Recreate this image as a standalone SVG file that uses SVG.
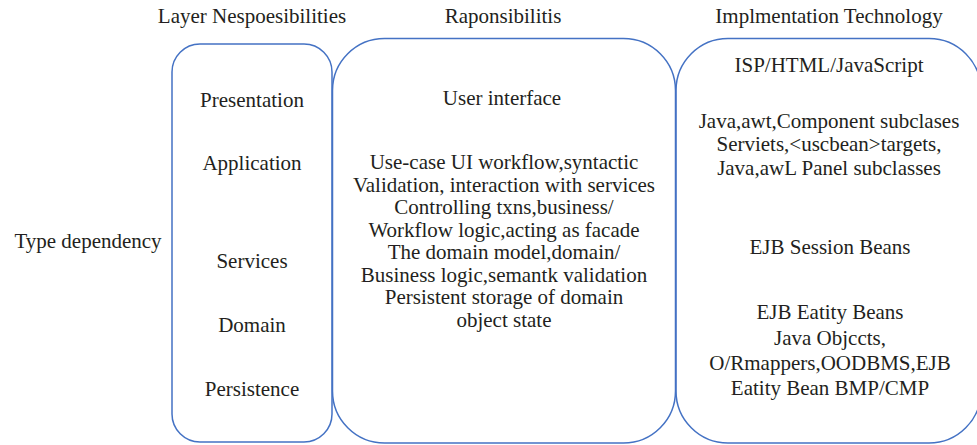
<svg xmlns="http://www.w3.org/2000/svg" width="977" height="445" viewBox="0 0 977 445">
  <style>
    .box { fill: none; stroke: #4472c4; stroke-width: 1.5; }
    text { font-family: "Liberation Serif", "Times New Roman", serif; font-size: 21px; fill: #231f20; text-anchor: middle; }
  </style>
  <rect width="977" height="445" fill="#ffffff"/>

  <!-- column headings -->
  <g id="headings">
    <text x="252" y="23">Layer Nespoesibilities</text>
    <text x="503" y="23">Raponsibilitis</text>
    <text x="829" y="23">Implmentation Technology</text>
  </g>

  <g id="type-dependency">
    <text x="88" y="248">Type dependency</text>
  </g>

  <!-- layer column -->
  <g id="layers">
    <rect class="box" x="172" y="44" width="160" height="398" rx="28" ry="28"/>
    <text x="252" y="107">Presentation</text>
    <text x="252" y="170">Application</text>
    <text x="252" y="268">Services</text>
    <text x="252" y="332">Domain</text>
    <text x="252" y="396">Persistence</text>
  </g>

  <!-- responsibilities column -->
  <g id="responsibilities">
    <rect class="box" x="332.5" y="38.5" width="343" height="404.5" rx="52" ry="52"/>
    <text x="502" y="105">User interface</text>
    <text x="504" y="169">Use-case UI workflow,syntactic</text>
    <text x="504" y="191.5">Validation, interaction with services</text>
    <text x="504" y="214">Controlling txns,business/</text>
    <text x="504" y="236.5">Workflow logic,acting as facade</text>
    <text x="504" y="259">The domain model,domain/</text>
    <text x="504" y="281.5">Business logic,semantk validation</text>
    <text x="504" y="304">Persistent storage of domain</text>
    <text x="504" y="326.5">object state</text>
  </g>

  <!-- implementation technology column (right edge runs past the canvas) -->
  <g id="technology">
    <rect class="box" x="676" y="38.5" width="305" height="404.5" rx="52" ry="52"/>
    <text x="829" y="72">ISP/HTML/JavaScript</text>
    <text x="829" y="128">Java,awt,Component subclases</text>
    <text x="829" y="151">Serviets,&lt;uscbean&gt;targets,</text>
    <text x="829" y="175">Java,awL Panel subclasses</text>
    <text x="830" y="254">EJB Session Beans</text>
    <text x="830" y="319">EJB Eatity Beans</text>
    <text x="830" y="345">Java Objccts,</text>
    <text x="830" y="370">O/Rmappers,OODBMS,EJB</text>
    <text x="830" y="395">Eatity Bean BMP/CMP</text>
  </g>
</svg>
